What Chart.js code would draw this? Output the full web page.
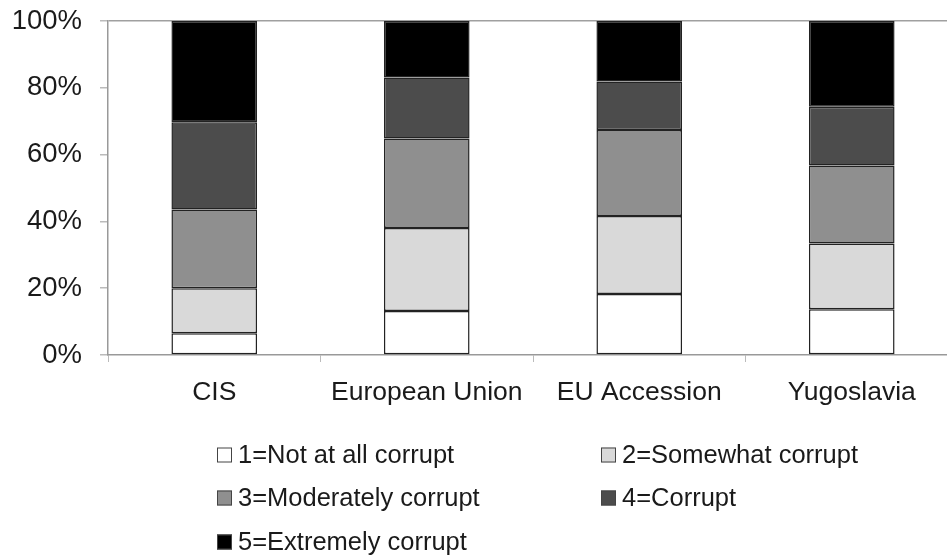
<!DOCTYPE html>
<html>
<head>
<meta charset="utf-8">
<script src="https://cdn.jsdelivr.net/npm/chart.js@4.4.1/dist/chart.umd.min.js"></script>
<style>
  html, body { margin: 0; padding: 0; background: #fff; overflow: hidden; }
  #wrap { width: 960px; height: 556px; }
</style>
</head>
<body>
<div id="wrap"><canvas id="c" width="960" height="556"></canvas></div>
<script>
// Perceived corruption by region, share of respondents (%)
const regions = ['CIS', 'European Union', 'EU Accession', 'Yugoslavia'];
const levels = ['1=Not at all corrupt', '2=Somewhat corrupt', '3=Moderately corrupt', '4=Corrupt', '5=Extremely corrupt'];
const notAtAll   = [6.5, 13.2, 18.3, 13.7];
const somewhat   = [13.5, 24.8, 23.3, 19.7];
const moderately = [23.6, 26.8, 25.8, 23.3];
const corrupt    = [26.1, 18.3, 14.5, 17.6];
const extremely  = [30.3, 16.9, 18.1, 25.7];
const yTicks = [0, 20, 40, 60, 80, 100];

const series = [notAtAll, somewhat, moderately, corrupt, extremely];
const fills = ['#ffffff', '#d9d9d9', '#8f8f8f', '#4c4c4c', '#000000'];
const FONT = '"Liberation Sans", Arial, sans-serif';

// Two-column legend drawn below the axis
const gridLegend = {
  id: 'gridLegend',
  afterDraw(chart) {
    const ctx = chart.ctx;
    const cols = [217, 601];
    const rows = [455, 498, 542];
    ctx.save();
    ctx.font = '25.5px ' + FONT;
    ctx.textBaseline = 'middle';
    ctx.textAlign = 'left';
    chart.data.datasets.forEach((ds, i) => {
      const x = cols[i % 2];
      const y = rows[Math.floor(i / 2)];
      ctx.fillStyle = ds.backgroundColor;
      ctx.fillRect(x, y - 7.5, 15, 15);
      ctx.strokeStyle = '#444';
      ctx.lineWidth = 1;
      ctx.strokeRect(x + 0.5, y - 7, 14, 14);
      ctx.fillStyle = '#1a1a1a';
      ctx.fillText(ds.label, x + 21, y + 1);
    });
    ctx.restore();
  }
};

new Chart(document.getElementById('c'), {
  type: 'bar',
  data: {
    labels: regions,
    datasets: series.map((vals, i) => ({
      label: levels[i],
      data: vals,
      backgroundColor: fills[i],
      borderColor: '#222',
      borderWidth: 1.5,
      borderSkipped: false,
      barPercentage: 0.403,
      categoryPercentage: 1.0
    }))
  },
  options: {
    responsive: false,
    animation: false,
    layout: { padding: { top: 21, right: 2, left: 0, bottom: 0 } },
    plugins: {
      legend: { display: false },
      tooltip: { enabled: false }
    },
    scales: {
      x: {
        stacked: true,
        offset: true,
        grid: {
          drawOnChartArea: false,
          drawTicks: true,
          tickLength: 7,
          color: '#bbbbbb'
        },
        border: { color: '#999999', width: 1.5 },
        ticks: {
          color: '#1a1a1a',
          font: { family: FONT, size: 26.5 },
          padding: 15,
          maxRotation: 0
        },
        afterFit(scale) {
          scale.height = 201;
          scale.paddingLeft = 0;
          scale.paddingRight = 0;
        }
      },
      y: {
        stacked: true,
        min: 0,
        max: 100,
        afterBuildTicks(scale) { scale.ticks = yTicks.map(v => ({ value: v })); },
        grid: {
          drawOnChartArea: true,
          color: c => (c.tick && c.tick.value === 100 ? '#a0a0a0' : 'rgba(0,0,0,0)'),
          tickColor: '#bbbbbb',
          lineWidth: 1.5,
          tickLength: 8
        },
        border: { color: '#999999', width: 1.5 },
        ticks: {
          color: '#1a1a1a',
          font: { family: FONT, size: 27.5 },
          padding: 18,
          callback: v => v + '%'
        },
        afterFit(scale) {
          scale.width = 108;
          scale.paddingTop = 0;
          scale.paddingBottom = 0;
        }
      }
    }
  },
  plugins: [gridLegend]
});
</script>
</body>
</html>
